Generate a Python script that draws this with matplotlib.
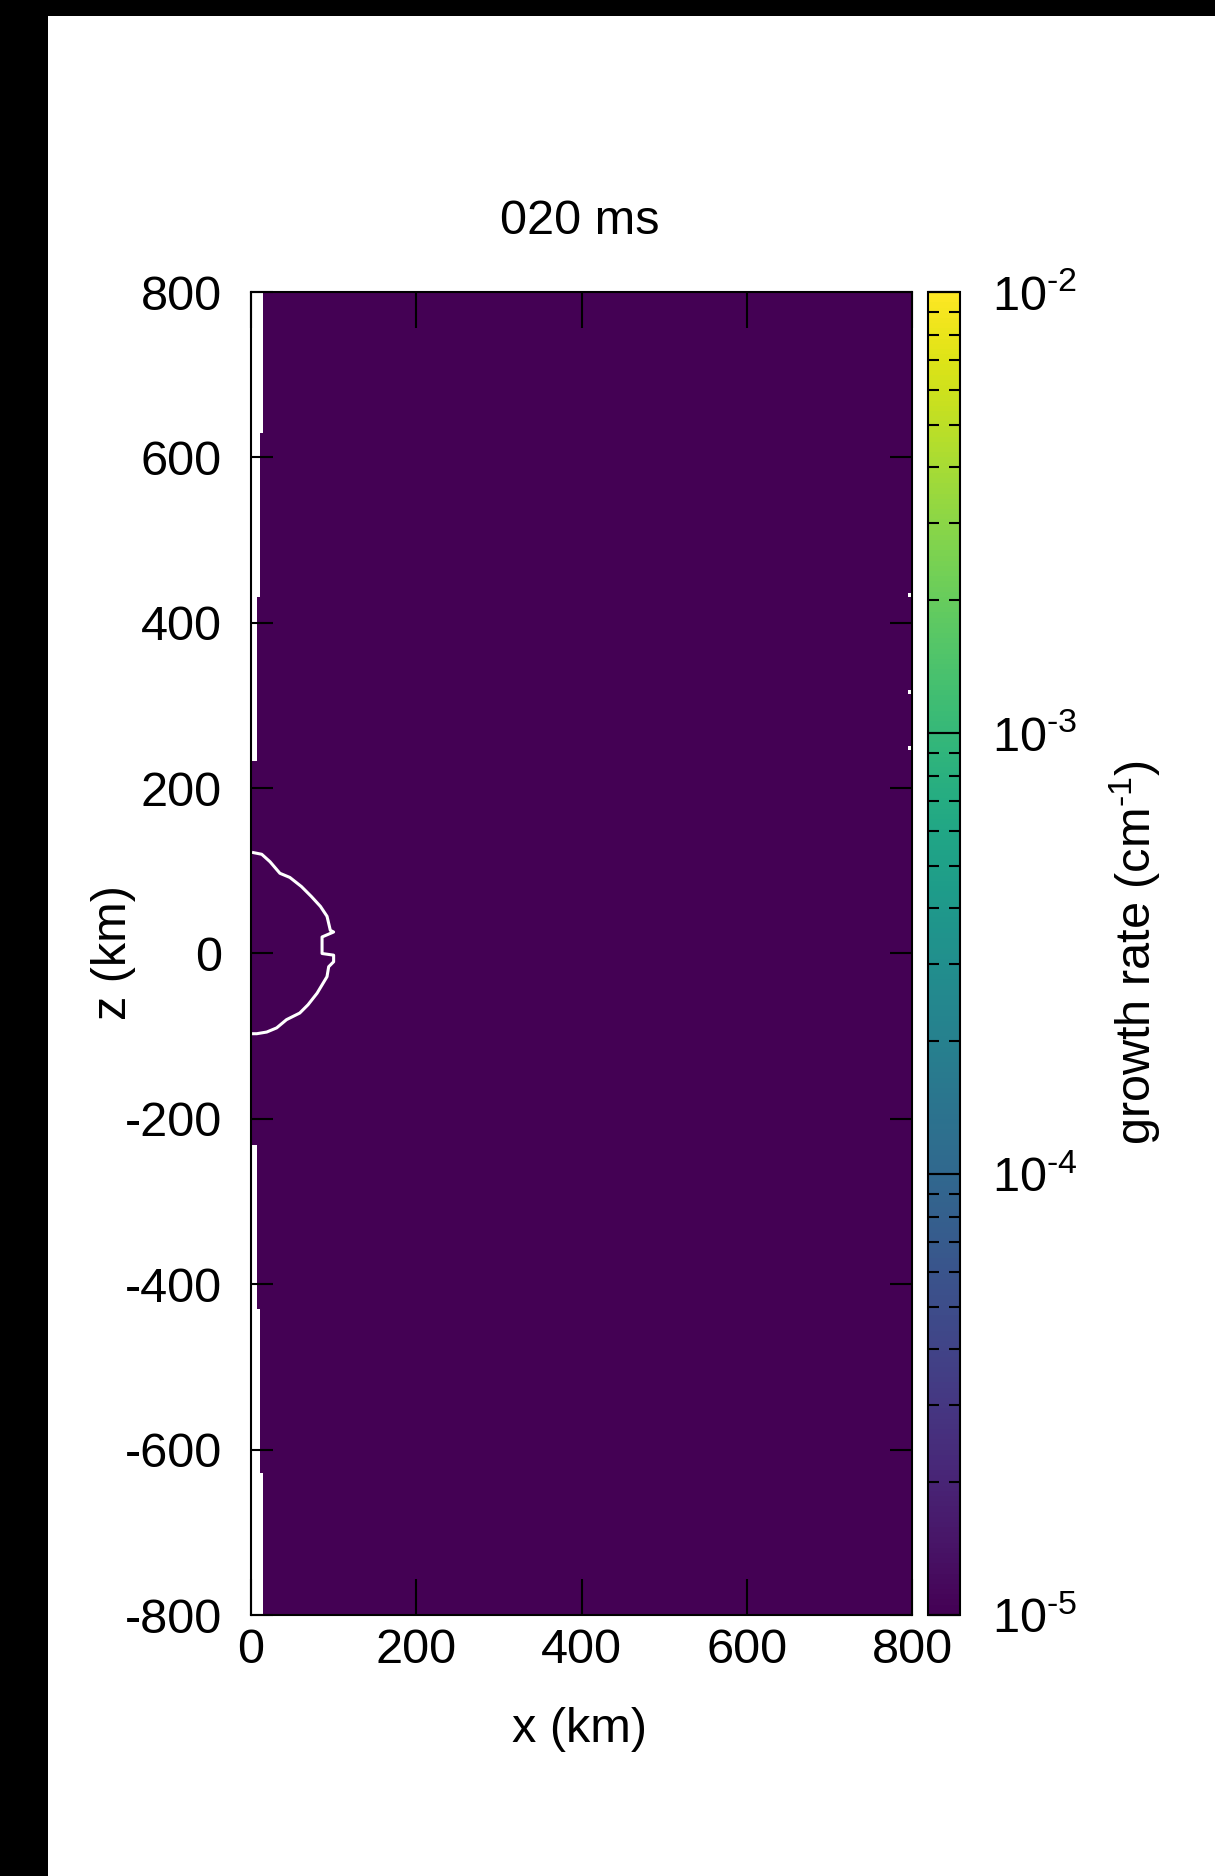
import numpy as np
import matplotlib.pyplot as plt
from matplotlib.colors import LogNorm
from matplotlib.patches import Rectangle

plt.rcParams['font.family'] = ['Liberation Sans', 'DejaVu Sans']
plt.rcParams['mathtext.fontset'] = 'custom'
plt.rcParams['mathtext.rm'] = 'Liberation Sans'
plt.rcParams['mathtext.it'] = 'Liberation Sans:italic'
plt.rcParams['font.size'] = 35

# domain (km), 1 km cells
x_lim = [0, 800]
z_lim = [-800, 800]
rate_floor = 1e-5          # whole domain sits at the colour-scale floor
rate_range = [1e-5, 1e-2]

# blank strip along the x=0 axis: z edges and strip width (km)
strip_z = [-800, -628, -430, -232, 232, 430, 628, 800]
strip_w = [15, 11, 7, 0, 7, 11, 15]

# white contour near the origin
contour_x = [3, 13, 23, 35, 47, 61, 73, 84, 92, 96, 100, 86, 86, 100, 100, 94, 92, 80, 69, 59, 43, 31, 19, 7, 3]
contour_z = [122, 120, 111, 97, 92, 81, 69, 57, 45, 28, 26, 20, 0, -2, -10, -16, -28, -48, -62, -72, -80, -90, -95, -97, -97]

# isolated white points at the right edge
dot_x = [797, 797, 797]
dot_z = [434, 316, 249]

x_ticks = [0, 200, 400, 600, 800]
z_ticks = [-800, -600, -400, -200, 0, 200, 400, 600, 800]
cb_ticks = [1e-5, 1e-4, 1e-3, 1e-2]
cb_labels = [r'10$^{\text{-}5}$', r'10$^{\text{-}4}$', r'10$^{\text{-}3}$', r'10$^{\text{-}2}$']

# build field ------------------------------------------------------------------
xc = np.arange(x_lim[0], x_lim[1]) + 0.5
zc = np.arange(z_lim[0], z_lim[1]) + 0.5
growth = np.full((len(zc), len(xc)), rate_floor)
for i in range(len(strip_w)):
    rows = (zc >= strip_z[i]) & (zc < strip_z[i + 1])
    cols = xc < strip_w[i]
    growth[np.ix_(rows, cols)] = np.nan

W, H = 1215, 1876
fig = plt.figure(figsize=(W / 100, H / 100), dpi=100)
fig.patch.set_facecolor('black')
fig.patches.append(Rectangle((48 / W, 0), 1 - 48 / W, 1 - 16 / H, transform=fig.transFigure,
                             facecolor='white', edgecolor='none', zorder=-1))

ax = fig.add_axes([251 / W, 1 - 1615 / H, 661 / W, 1323 / H])
cmap = plt.get_cmap('viridis').copy()
cmap.set_bad('white')
im = ax.imshow(growth, extent=[x_lim[0], x_lim[1], z_lim[0], z_lim[1]], origin='lower',
               aspect='auto', cmap=cmap, norm=LogNorm(*rate_range), interpolation='nearest')
ax.plot(contour_x, contour_z, color='white', lw=2.2)
ax.plot(dot_x, dot_z, 's', color='white', ms=2.2, mew=0)

ax.set_xlim(x_lim)
ax.set_ylim(z_lim)
ax.set_xticks(x_ticks)
ax.set_yticks(z_ticks)
ax.set_yticklabels([str(t) for t in z_ticks])
ax.tick_params(axis='x', direction='in', length=26, width=1.5, top=True, pad=9)
ax.tick_params(axis='y', direction='in', length=16, width=1.5, right=True, pad=21)
for s in ax.spines.values():
    s.set_linewidth(1.5)

cax = fig.add_axes([928 / W, 1 - 1615 / H, 32 / W, 1323 / H])
cb = fig.colorbar(im, cax=cax)
cb.outline.set_linewidth(1.5)
cb.set_ticks(cb_ticks)
cb.set_ticklabels(cb_labels)
cax.tick_params(which='major', direction='in', length=24, width=1.5, left=True, right=True, pad=23)
cax.tick_params(which='minor', direction='in', length=8, width=1.5, left=True, right=True)

fig.text(580 / W, 1 - 221 / H, '020 ms', ha='center', va='center')
fig.text(580 / W, 1 - 1729 / H, 'x (km)', ha='center', va='center')
fig.text(114 / W, 1 - 953 / H, 'z (km)', ha='center', va='center', rotation=90)
fig.text(1135 / W, 1 - 953 / H, r'growth rate (cm$^{\text{-}1}$)', ha='center', va='center', rotation=90)

fig.savefig('out.png', dpi=100, facecolor=fig.get_facecolor())
